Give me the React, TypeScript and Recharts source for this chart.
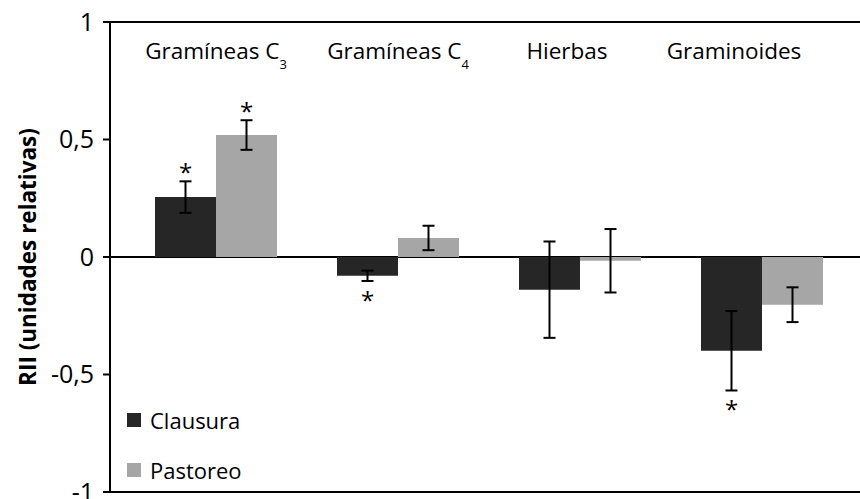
import React from 'react';
import { BarChart, Bar, XAxis, YAxis, CartesianGrid, ErrorBar, LabelList, Legend } from 'recharts';

const categories = ['Gramíneas C3', 'Gramíneas C4', 'Hierbas', 'Graminoides'];
const clausura = [0.255, -0.08, -0.139, -0.399];
const pastoreo = [0.519, 0.081, -0.016, -0.203];
const clausuraErr = [0.067, 0.022, 0.205, 0.169];
const pastoreoErr = [0.063, 0.052, 0.135, 0.074];
const clausuraSig = [true, true, false, true];
const pastoreoSig = [true, false, false, false];
const yTicks = [-1, -0.5, 0, 0.5, 1];

const data = categories.map((c, i) => ({
  name: c,
  Clausura: clausura[i],
  Pastoreo: pastoreo[i],
  cErr: clausuraErr[i],
  pErr: pastoreoErr[i],
  cSig: clausuraSig[i] ? 1 : 0,
  pSig: pastoreoSig[i] ? 1 : 0,
}));

const FONT = '"Open Sans", sans-serif';
const labelShift = [0, 0, -13, -28];

const CategoryTick = (props: any) => {
  const { x, payload, index } = props;
  const label: string = payload.value;
  const m = label.match(/^(.*C)(\d)$/);
  const cx = x + (labelShift[index] ?? 0);
  return (
    <text x={cx} y={59} textAnchor="middle" fontFamily={FONT} fontSize={22.5} fill="#000">
      {m ? (
        <>
          <tspan>{m[1]}</tspan>
          <tspan fontSize={13} dy={10}>{m[2]}</tspan>
        </>
      ) : (
        label
      )}
    </text>
  );
};

const makeStar = (values: number[], errs: number[], sigs: boolean[]) => (props: any) => {
  const { x, y, width, height, index } = props;
  if (!sigs[index]) return null;
  const v = values[index];
  const h = Math.abs(height);
  const top = Math.min(y, y + height);
  const bottom = Math.max(y, y + height);
  const ppu = h / Math.abs(v);
  const cx = x + width / 2;
  if (v >= 0) {
    const errTop = top - errs[index] * ppu;
    return (
      <text x={cx} y={errTop} textAnchor="middle" fontFamily={FONT} fontSize={24} fill="#000">*</text>
    );
  }
  const errBottom = bottom + errs[index] * ppu;
  return (
    <text x={cx} y={errBottom + 28} textAnchor="middle" fontFamily={FONT} fontSize={24} fill="#000">*</text>
  );
};

const YLabel = (props: any) => {
  const vb = props.viewBox || {};
  const cx = 27;
  const cy = (vb.y ?? 22) + (vb.height ?? 470) / 2;
  return (
    <text
      x={cx}
      y={cy}
      transform={`rotate(-90, ${cx}, ${cy})`}
      textAnchor="middle"
      dominantBaseline="central"
      fontFamily={FONT}
      fontWeight="bold"
      fontSize={22.5}
      fill="#000"
    >
      RII (unidades relativas)
    </text>
  );
};

const LegendContent = (props: any) => {
  const { payload } = props;
  return (
    <div style={{ fontFamily: FONT, fontSize: 22, color: '#000' }}>
      {(payload || []).map((p: any, i: number) => (
        <div key={i} style={{ display: 'flex', alignItems: 'center', height: 50 }}>
          <span style={{ display: 'inline-block', width: 14, height: 14, background: p.color, marginRight: 9 }} />
          <span>{p.value}</span>
        </div>
      ))}
    </div>
  );
};

export default function App() {
  return (
    <div style={{ position: 'absolute', left: 0, top: 0, width: 860, height: 499, background: '#fff' }}>
      <BarChart
        width={860}
        height={499}
        data={data}
        margin={{ top: 21, right: 0, bottom: 7, left: 0 }}
        barCategoryGap={30}
        barGap={0}
      >
        <CartesianGrid vertical={false} horizontalValues={[-1, 0, 1]} stroke="#000" strokeWidth={2} />
        <XAxis
          dataKey="name"
          orientation="top"
          height={1}
          axisLine={false}
          tickLine={false}
          padding={{ left: 15, right: 7 }}
          tick={<CategoryTick />}
          interval={0}
        />
        <YAxis
          width={110}
          domain={[-1, 1]}
          ticks={yTicks}
          interval={0}
          tickFormatter={(v: number) => String(v).replace('.', ',')}
          tick={{ fill: '#000', fontSize: 25, fontFamily: FONT }}
          tickSize={7}
          tickMargin={9}
          axisLine={{ stroke: '#000', strokeWidth: 2 }}
          tickLine={{ stroke: '#000', strokeWidth: 2 }}
          label={<YLabel />}
        />
        <Legend
          layout="vertical"
          align="center"
          verticalAlign="middle"
          wrapperStyle={{ left: 127, top: 395, width: 200 }}
          content={<LegendContent />}
        />
        <Bar dataKey="Clausura" fill="#262626" isAnimationActive={false}>
          <ErrorBar dataKey="cErr" width={6} stroke="#000" strokeWidth={2} />
          <LabelList dataKey="cSig" content={makeStar(clausura, clausuraErr, clausuraSig)} />
        </Bar>
        <Bar dataKey="Pastoreo" fill="#a6a6a6" isAnimationActive={false}>
          <ErrorBar dataKey="pErr" width={6} stroke="#000" strokeWidth={2} />
          <LabelList dataKey="pSig" content={makeStar(pastoreo, pastoreoErr, pastoreoSig)} />
        </Bar>
      </BarChart>
    </div>
  );
}
